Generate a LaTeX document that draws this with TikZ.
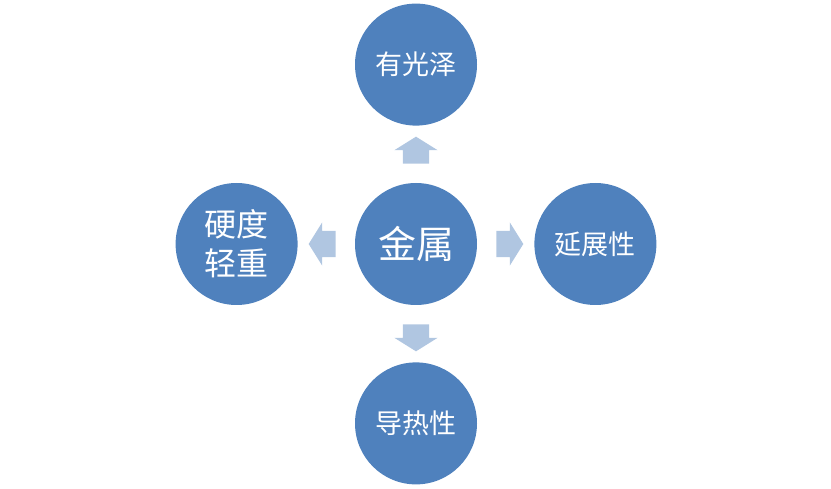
\documentclass[tikz,border=0pt]{standalone}
\usepackage{fontspec}
\newfontfamily\cjk{Noto Sans CJK SC}
\usetikzlibrary{shapes.arrows,positioning,calc}
\definecolor{metalblue}{RGB}{79,129,189}
\definecolor{arrowblue}{RGB}{176,198,225}

\begin{document}
\begin{tikzpicture}[
    node distance=57pt,
    prop/.style={circle, fill=metalblue, minimum size=122pt, inner sep=0pt, text=white, align=center, font=\cjk\fontsize{27}{32}\selectfont},
    blockarrow/.style={single arrow, fill=arrowblue, inner xsep=0pt, inner ysep=13pt, minimum height=27pt, single arrow head extend=8.5pt, single arrow tip angle=116}
]
    \useasboundingbox (0,0) rectangle (831pt,-489pt);

    \node[prop, font=\cjk\fontsize{38}{42}\selectfont] (metal) at (416pt,-244pt) {金属};

    \node[prop, above=of metal] (luster) {有光泽};
    \node[prop, below=of metal] (heat) {导热性};
    \node[prop, right=of metal] (ductile) {延展性};
    \node[prop, left=of metal, font=\cjk\fontsize{32}{39}\selectfont] (hard) {硬度\\轻重};

    \node[blockarrow, rotate=90] (toluster) at ($(metal)!0.5!(luster)$) {};
    \node[blockarrow, rotate=270] (toheat) at ($(metal)!0.5!(heat)$) {};
    \node[blockarrow] (toductile) at ($(metal)!0.5!(ductile)$) {};
    \node[blockarrow, rotate=180] (tohard) at ($(metal)!0.5!(hard)$) {};
\end{tikzpicture}
\end{document}
